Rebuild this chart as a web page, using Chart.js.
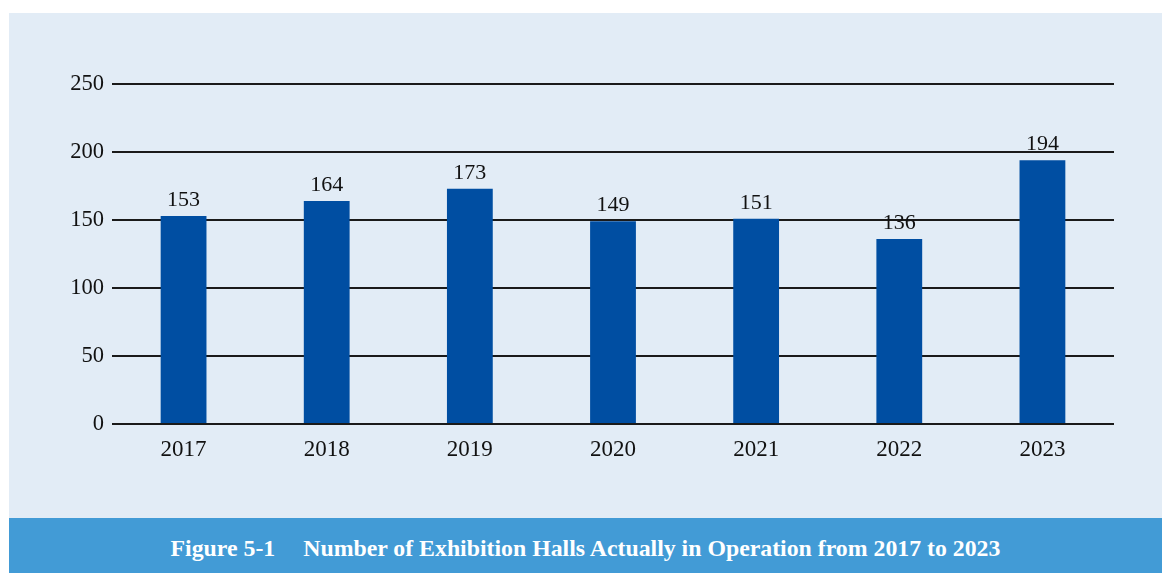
<!DOCTYPE html>
<html>
<head>
<meta charset="utf-8">
<script src="https://cdn.jsdelivr.net/npm/chart.js@4/dist/chart.umd.min.js"></script>
<style>
  html, body { margin: 0; padding: 0; background: #fff; }
  #page { position: relative; width: 1162px; height: 573px; overflow: hidden; }
  #panel { position: absolute; left: 9px; top: 13px; width: 1153px; height: 505px; background: #e2ecf6; }
  #wrap { position: absolute; left: 0; top: 0; width: 1162px; height: 518px; }
  #caption {
    position: absolute; left: 9px; top: 518px; width: 1153px; height: 50px; padding-top: 5px;
    background: #429bd6; color: #fff;
    font-family: "Liberation Serif", "Times New Roman", serif; font-weight: bold; font-size: 23.8px;
    line-height: 50px; text-align: center; white-space: pre;
  }
  #caption span { margin-right: 28px; }
</style>
</head>
<body>
<div id="page">
  <div id="panel"></div>
  <div id="wrap"><canvas id="chart"></canvas></div>
  <div id="caption"><span>Figure 5-1</span>Number of Exhibition Halls Actually in Operation from 2017 to 2023</div>
</div>
<script>
let years = ['2017', '2018', '2019', '2020', '2021', '2022', '2023'];
let halls = [153, 164, 173, 149, 151, 136, 194];
let yTicks = [0, 50, 100, 150, 200, 250];

const serif = '"Liberation Serif", "Times New Roman", serif';

// prints the value above each bar
const valueLabels = {
    id: 'valueLabels',
    afterDatasetsDraw(chart) {
        const ctx = chart.ctx;
        const meta = chart.getDatasetMeta(0);
        ctx.save();
        ctx.font = '22px ' + serif;
        ctx.fillStyle = '#111';
        ctx.textAlign = 'center';
        ctx.textBaseline = 'alphabetic';
        meta.data.forEach((bar, i) => {
            ctx.fillText(String(halls[i]), bar.x, bar.y - 10);
        });
        ctx.restore();
    }
};

const ctx = document.getElementById('chart');

new Chart(ctx, {
    type: 'bar',
    data: {
        labels: years,
        datasets: [{
            label: 'Exhibition halls',
            data: halls,
            backgroundColor: '#004ea2',
            borderWidth: 0,
            barPercentage: 0.32,
            categoryPercentage: 1
        }]
    },
    options: {
        responsive: true,
        maintainAspectRatio: false,
        animation: false,
        layout: { padding: { left: 0, top: 84, right: 48, bottom: 0 } },
        plugins: {
            legend: { display: false },
            tooltip: { enabled: false }
        },
        scales: {
            x: {
                grid: { display: false, drawTicks: false },
                border: { display: false },
                ticks: { color: '#111', font: { family: serif, size: 23 }, padding: 12 },
                afterFit(scale) { scale.height = 94; }
            },
            y: {
                min: 0,
                max: 250,
                afterBuildTicks(scale) { scale.ticks = yTicks.map(v => ({ value: v })); },
                grid: { color: '#1a1a1a', lineWidth: 2, drawTicks: false },
                border: { display: false },
                ticks: { color: '#111', font: { family: serif, size: 22.5 }, padding: 8 },
                afterFit(scale) { scale.width = 112; }
            }
        }
    },
    plugins: [valueLabels]
});
</script>
</body>
</html>
